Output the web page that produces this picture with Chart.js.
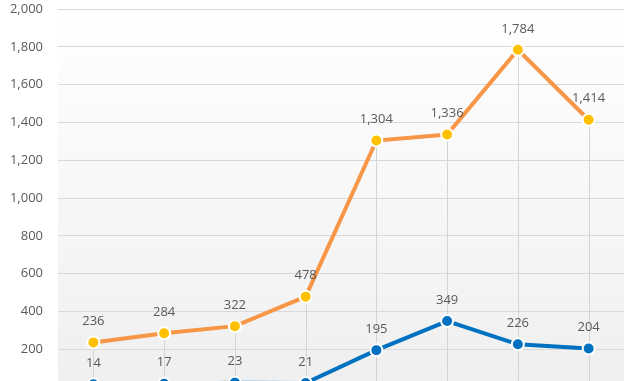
<!DOCTYPE html>
<html>
<head>
<meta charset="utf-8">
<script src="https://cdn.jsdelivr.net/npm/chart.js@4"></script>
<style>
    html, body { margin: 0; padding: 0; background: #fff; overflow: hidden; }
    #wrap { width: 640px; height: 395px; }
</style>
</head>
<body>
<div id="wrap"><canvas id="chart" width="640" height="395"></canvas></div>
<script>
// Chart values (x labels are cut off in the reference, so they are kept but not shown)
const categories = ['1', '2', '3', '4', '5', '6', '7', '8'];
const orangeSeries = [236, 284, 322, 478, 1304, 1336, 1784, 1414];
const blueSeries = [14, 17, 23, 21, 195, 349, 226, 204];
const yTicks = [0, 200, 400, 600, 800, 1000, 1200, 1400, 1600, 1800, 2000];

const TEXT_COLOR = '#595959';
const FONT = "'Open Sans', 'Noto Sans', sans-serif";

/**
 * Soft white-to-grey fill behind the plot
 */
const plotBackground = {
    id: 'plotBackground',
    beforeDraw(chart) {
        const { ctx, chartArea: a } = chart;
        const g = ctx.createLinearGradient(0, a.top, 0, a.bottom);
        g.addColorStop(0, '#ffffff');
        g.addColorStop(1, '#efefef');
        ctx.save();
        ctx.fillStyle = g;
        ctx.fillRect(a.left, a.top, a.right - a.left, a.bottom - a.top);
        ctx.restore();
    }
};

/**
 * Drop lines from the highest point of each category down to the axis
 */
const dropLines = {
    id: 'dropLines',
    beforeDatasetsDraw(chart) {
        const { ctx, chartArea: a } = chart;
        const metas = chart.getSortedVisibleDatasetMetas();
        ctx.save();
        ctx.strokeStyle = '#d4d4d4';
        ctx.lineWidth = 1;
        categories.forEach((_, i) => {
            const pts = metas.map(m => m.data[i]).filter(Boolean);
            if (!pts.length) return;
            const top = Math.min(...pts.map(p => p.y));
            const x = Math.round(pts[0].x) + 0.5;
            ctx.beginPath();
            ctx.moveTo(x, top);
            ctx.lineTo(x, a.bottom);
            ctx.stroke();
        });
        ctx.restore();
    }
};

/**
 * Value labels above each point
 */
const valueLabels = {
    id: 'valueLabels',
    afterDatasetsDraw(chart) {
        const { ctx } = chart;
        ctx.save();
        ctx.fillStyle = TEXT_COLOR;
        ctx.font = '13px ' + FONT;
        ctx.textAlign = 'center';
        ctx.textBaseline = 'middle';
        chart.getSortedVisibleDatasetMetas().forEach(meta => {
            const values = chart.data.datasets[meta.index].data;
            meta.data.forEach((pt, i) => {
                ctx.fillText(values[i].toLocaleString('en-US'), pt.x, pt.y - 21);
            });
        });
        ctx.restore();
    }
};

new Chart(document.getElementById('chart'), {
    type: 'line',
    data: {
        labels: categories,
        datasets: [
            {
                data: orangeSeries,
                borderColor: '#f79646',
                borderWidth: 4,
                pointBackgroundColor: '#ffc000',
                pointBorderColor: '#ffffff',
                pointBorderWidth: 2,
                pointRadius: 6,
                tension: 0
            },
            {
                data: blueSeries,
                borderColor: '#0070c0',
                borderWidth: 4,
                pointBackgroundColor: '#0070c0',
                pointBorderColor: '#ffffff',
                pointBorderWidth: 2,
                pointRadius: 6,
                tension: 0
            }
        ]
    },
    options: {
        responsive: false,
        animation: false,
        layout: {
            padding: { top: 9, right: 16, bottom: 5, left: 0 }
        },
        plugins: {
            legend: { display: false },
            tooltip: { enabled: false }
        },
        scales: {
            x: {
                display: false,
                offset: true
            },
            y: {
                min: 0,
                max: 2000,
                afterFit: s => {
                    s.width = 58;
                    s.paddingTop = 0;
                    s.paddingBottom = 0;
                },
                afterBuildTicks: s => { s.ticks = yTicks.map(v => ({ value: v })); },
                grid: { color: '#d9d9d9', drawTicks: false },
                border: { display: false },
                ticks: {
                    color: TEXT_COLOR,
                    font: { family: FONT, size: 13 },
                    padding: 15,
                    callback: v => v.toLocaleString('en-US')
                }
            }
        }
    },
    plugins: [plotBackground, dropLines, valueLabels]
});
</script>
</body>
</html>
